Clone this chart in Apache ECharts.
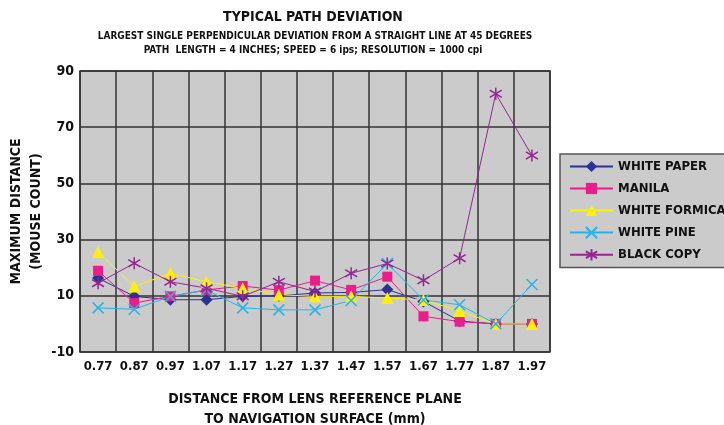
<!DOCTYPE html>
<html>
<head>
<meta charset="utf-8">
<script src="https://cdn.jsdelivr.net/npm/echarts@6/dist/echarts.min.js"></script>
<style>
  html, body { margin: 0; padding: 0; background: #fff; }
  #chart { width: 724px; height: 425px; }
</style>
</head>
<body>
<div id="chart"></div>
<script>
// data
const categories = ["0.77", "0.87", "0.97", "1.07", "1.17", "1.27", "1.37", "1.47", "1.57", "1.67", "1.77", "1.87", "1.97"];
const whitePaper = [16.3, 9.8, 8.6, 8.6, 9.8, 10, 11, 11.2, 12.2, 8, 1, 0, 0];
const manila = [18.9, 7.4, 9.8, 12.1, 13.5, 12, 15.4, 12.1, 16.8, 2.7, 0.8, 0, 0];
const whiteFormica = [25.6, 13.3, 18, 15, 12.7, 10.4, 9.8, 9.8, 9.2, 8.5, 4.6, 0, 0];
const whitePine = [5.7, 5.2, 9.8, 12, 5.7, 5, 5, 8.3, 21.5, 8.5, 6.8, 0, 14];
const blackCopy = [14.5, 21.6, 15, 12.7, 9.8, 15, 11.5, 18, 21.5, 15.5, 23.4, 81.9, 59.9];
const yTicks = [-10, 10, 30, 50, 70, 90];

const FONT = "'Liberation Sans Narrow', 'DejaVu Sans Condensed', sans-serif";
const X_SYMBOL = "path://M0,0L10,10M10,0L0,10";
const STAR_SYMBOL = "path://M5,0L5,10M0,2L10,8M0,8L10,2";

function lineSeries(name, data, color, symbol, size, stroke) {
    return {
        name: name,
        type: "line",
        data: data,
        symbol: symbol,
        symbolSize: size,
        showAllSymbol: true,
        lineStyle: { color: color, width: 1 },
        itemStyle: stroke
            ? { color: color, borderColor: color, borderWidth: 1.5 }
            : { color: color, borderWidth: 0 },
        emphasis: { disabled: true },
    };
}

const chart = echarts.init(document.getElementById("chart"));
chart.setOption({
    animation: false,
    textStyle: { fontFamily: FONT, fontWeight: "bold", color: "#111" },
    graphic: [
        { type: "text", x: 313, y: 17, style: { text: "TYPICAL PATH DEVIATION", font: "bold 14px " + FONT, fill: "#111", align: "center", verticalAlign: "middle" } },
        { type: "text", x: 315, y: 36.5, style: { text: "LARGEST SINGLE PERPENDICULAR DEVIATION FROM A STRAIGHT LINE AT 45 DEGREES", font: "bold 10px " + FONT, fill: "#111", align: "center", verticalAlign: "middle" } },
        { type: "text", x: 313, y: 50, style: { text: "PATH  LENGTH = 4 INCHES; SPEED = 6 ips; RESOLUTION = 1000 cpi", font: "bold 10px " + FONT, fill: "#111", align: "center", verticalAlign: "middle" } },
    ],
    grid: {
        left: 80, top: 71, right: 174, bottom: 73,
        outerBoundsMode: "none",
        containLabel: false,
        show: true, backgroundColor: "#cbcbcb", borderColor: "#333", borderWidth: 1.5,
    },
    legend: {
        left: 560, top: 154, orient: "vertical",
        backgroundColor: "#cbcbcb", borderColor: "#555", borderWidth: 1.5, borderRadius: 0,
        padding: [6, 20, 6, 9],
        itemWidth: 43, itemHeight: 14, itemGap: 9,
        textStyle: { fontFamily: FONT, fontWeight: "bold", fontSize: 13, color: "#111" },
    },
    xAxis: {
        type: "category",
        data: categories,
        boundaryGap: true,
        axisLine: { show: false },
        axisTick: { show: false },
        axisLabel: { fontFamily: FONT, fontWeight: "bold", fontSize: 13, color: "#111", margin: 8, interval: 0 },
        splitLine: { show: true, interval: 0, lineStyle: { color: "#333", width: 1.5 } },
        name: "DISTANCE FROM LENS REFERENCE PLANE\nTO NAVIGATION SURFACE (mm)",
        nameLocation: "middle",
        nameGap: 37,
        nameMoveOverlap: false,
        nameTextStyle: { fontFamily: FONT, fontWeight: "bold", fontSize: 14, color: "#111", lineHeight: 20, verticalAlign: "top" },
    },
    yAxis: {
        type: "value",
        min: yTicks[0],
        max: yTicks[yTicks.length - 1],
        interval: 20,
        axisLine: { show: false },
        axisTick: { show: false },
        axisLabel: { fontFamily: FONT, fontWeight: "bold", fontSize: 14, color: "#111", margin: 6 },
        splitLine: { show: true, lineStyle: { color: "#333", width: 1.5 } },
        name: "MAXIMUM DISTANCE\n(MOUSE COUNT)",
        nameLocation: "middle",
        nameRotate: 90,
        nameGap: 34,
        nameMoveOverlap: false,
        nameTextStyle: { fontFamily: FONT, fontWeight: "bold", fontSize: 14, color: "#111", lineHeight: 20 },
    },
    series: [
        lineSeries("WHITE PAPER", whitePaper, "#2e3192", "diamond", 12, false),
        lineSeries("MANILA", manila, "#ec1c8c", "rect", 10, false),
        lineSeries("WHITE FORMICA", whiteFormica, "#fff200", "triangle", 12, false),
        lineSeries("WHITE PINE", whitePine, "#27b4e6", X_SYMBOL, 11, true),
        lineSeries("BLACK COPY", blackCopy, "#92278f", STAR_SYMBOL, 12, true),
    ],
});
</script>
</body>
</html>
